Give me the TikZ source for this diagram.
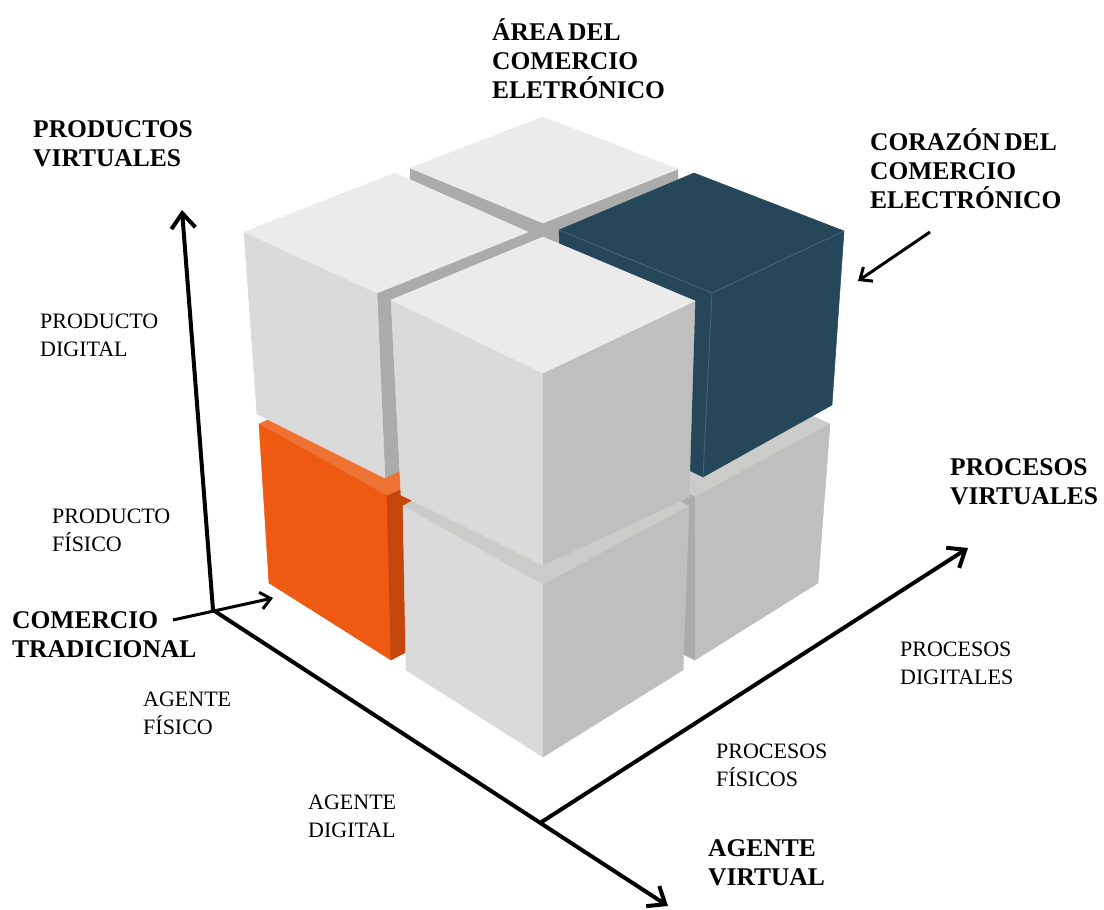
\documentclass[tikz,border=0pt]{standalone}
\usepackage{fontspec}
\setmainfont{Liberation Serif}
\usetikzlibrary{arrows.meta}

\definecolor{lighttop}{HTML}{EBEBEB}
\definecolor{leftside}{HTML}{DADADA}
\definecolor{rightside}{HTML}{BFBFBF}
\definecolor{groove}{HTML}{ABABAB}
\definecolor{lowertop}{HTML}{CBCCCA}
\definecolor{navy}{HTML}{26475A}
\definecolor{navyedge}{HTML}{46677A}
\definecolor{orangetop}{HTML}{ED7233}
\definecolor{orangeface}{HTML}{EE5A11}
\definecolor{orangeside}{HTML}{C4460C}

\begin{document}
\begin{tikzpicture}[x=1pt,y=-1pt,
  face/.style={fill=#1,draw=#1,line width=0.5pt,line join=round},
  boldlabel/.style={anchor=north west,inner sep=0pt,align=left,
    font=\fontsize{25.5}{29}\selectfont\bfseries,
    execute at begin node={\rule{0pt}{25.5pt}}},
  plainlabel/.style={anchor=north west,inner sep=0pt,align=left,
    font=\fontsize{22}{27.5}\selectfont,
    execute at begin node={\rule{0pt}{22pt}}},
  axis/.style={line width=4pt,-{Straight Barb[length=15pt,width=24pt]}},
  pointer/.style={line width=3pt,-{Straight Barb[length=10pt,width=17pt]}}]

\useasboundingbox (0,0) rectangle (1104,910);

% ---- lower layer: orange block (left) ----
\path[face=orangetop]  (259,424) -- (400,358) -- (530,430) -- (387,496) -- cycle;
\path[face=orangeface] (259,424) -- (387,496) -- (391,660) -- (269,583) -- cycle;
\path[face=orangeside] (387,496) -- (530,430) -- (525,590) -- (391,660) -- cycle;

% ---- lower layer: grey block (right) ----
\path[face=lowertop]  (548,432) -- (690,360) -- (830,424) -- (695,497) -- cycle;
\path[face=groove]    (548,432) -- (695,497) -- (695,660) -- (550,590) -- cycle;
\path[face=rightside] (695,497) -- (830,424) -- (818,583) -- (695,660) -- cycle;

% ---- lower layer: grey block (front) ----
\path[face=lowertop]  (403,506) -- (543,430) -- (689,506) -- (543,585) -- cycle;
\path[face=leftside]  (403,506) -- (543,585) -- (543,757) -- (406,670) -- cycle;
\path[face=rightside] (543,585) -- (689,506) -- (683,670) -- (543,757) -- cycle;

% ---- upper layer: back block ----
\path[face=groove]   (410,168) -- (543,223) -- (543,400) -- (413,340) -- cycle;
\path[face=groove]   (543,223) -- (678,169) -- (676,340) -- (543,400) -- cycle;
\path[face=lighttop] (543,117) -- (410,168) -- (543,223) -- (678,169) -- cycle;

% ---- upper layer: left block ----
\path[face=groove]   (377,293) -- (528,232) -- (523,412) -- (385,478) -- cycle;
\path[face=leftside] (244,232) -- (377,293) -- (385,478) -- (257,414) -- cycle;
\path[face=lighttop] (395,173) -- (244,232) -- (377,293) -- (528,232) -- cycle;

% ---- upper layer: dark block (right) ----
\path[face=navy] (559,230) -- (712,293) -- (703,477) -- (565,410) -- cycle;
\path[face=navy] (712,293) -- (844,231) -- (832,405) -- (703,477) -- cycle;
\path[face=navy] (694,173) -- (559,230) -- (712,293) -- (844,231) -- cycle;
\draw[navyedge,line width=0.8pt] (559,230) -- (712,293) -- (844,231)
  (712,293) -- (703,477);

% ---- upper layer: front block ----
\path[face=leftside]  (391,300) -- (543,373) -- (543,565) -- (401,495) -- cycle;
\path[face=rightside] (543,373) -- (695,301) -- (689,497) -- (543,565) -- cycle;
\path[face=lighttop]  (543,237) -- (391,300) -- (543,373) -- (695,301) -- cycle;

% ---- axes ----
\coordinate (O) at (213,610);
\coordinate (prodtip) at (182,210);
\coordinate (agenttip) at (668,906);
\coordinate (procbase) at (540,823);
\coordinate (proctip) at (968,548);
\coordinate (tradfrom) at (173,620);
\coordinate (tradto) at (273,598);
\coordinate (corfrom) at (930,232);
\coordinate (corto) at (858,281);

\draw[axis] (O) -- (prodtip);
\draw[axis] (O) -- (agenttip);
\draw[axis] (procbase) -- (proctip);
\draw[pointer] (tradfrom) -- (tradto);
\draw[pointer] (corfrom) -- (corto);

% ---- labels ----
\node[boldlabel] (area) at (492,18) {{\spaceskip=0.15em ÁREA DEL}\\COMERCIO\\ELETRÓNICO};
\node[boldlabel] (prodvirt) at (33,120) {PRODUCTOS\\VIRTUALES};
\node[boldlabel] (corazon) at (870,128) {{\spaceskip=0.15em CORAZÓN DEL}\\COMERCIO\\ELECTRÓNICO};
\node[boldlabel] (procvirt) at (950,458) {PROCESOS\\VIRTUALES};
\node[boldlabel] (tradicional) at (12,611) {COMERCIO\\TRADICIONAL};
\node[boldlabel] (agvirt) at (708,839) {AGENTE\\VIRTUAL};

\node[plainlabel] (proddig) at (40,314) {PRODUCTO\\DIGITAL};
\node[plainlabel] (prodfis) at (52,509) {PRODUCTO\\FÍSICO};
\node[plainlabel] (agfis) at (143,692) {AGENTE\\FÍSICO};
\node[plainlabel] (agdig) at (308,795) {AGENTE\\DIGITAL};
\node[plainlabel] (procdig) at (900,642) {PROCESOS\\DIGITALES};
\node[plainlabel] (procfis) at (716,744) {PROCESOS\\FÍSICOS};
\end{tikzpicture}
\end{document}
